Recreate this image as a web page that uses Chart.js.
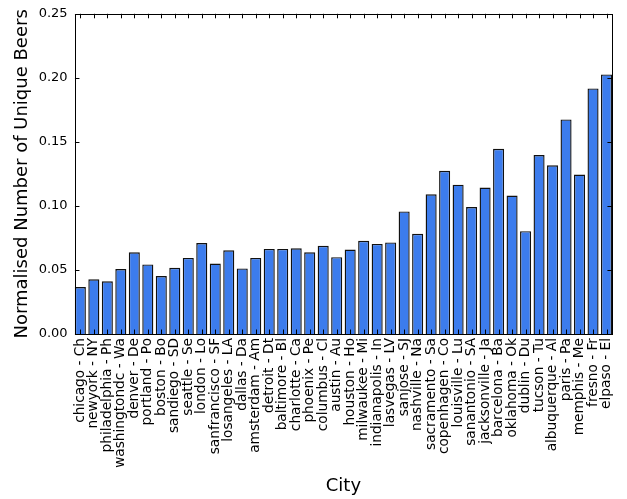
<!DOCTYPE html>
<html>
<head>
<meta charset="utf-8">
<script src="https://cdn.jsdelivr.net/npm/chart.js@4/dist/chart.umd.min.js"></script>
<style>
html,body{margin:0;padding:0;background:#fff;}
#wrap{width:627px;height:499px;}
</style>
</head>
<body>
<div id="wrap"><canvas id="c" width="627" height="499"></canvas></div>
<script>
const cities = ["chicago - Ch","newyork - NY","philadelphia - Ph","washingtondc - Wa","denver - De","portland - Po","boston - Bo","sandiego - SD","seattle - Se","london - Lo","sanfrancisco - SF","losangeles - LA","dallas - Da","amsterdam - Am","detroit - Dt","baltimore - Bl","charlotte - Ca","phoenix - Pe","columbus - Cl","austin - Au","houston - Ho","milwaukee - Mi","indianapolis - In","lasvegas - LV","sanjose - SJ","nashville - Na","sacramento - Sa","copenhagen - Co","louisville - Lu","sanantonio - SA","jacksonville - Ja","barcelona - Ba","oklahoma - Ok","dublin - Du","tucson - Tu","albuquerque - Al","paris - Pa","memphis - Me","fresno - Fr","elpaso - El"];
const uniqueBeers = [0.0367,0.0427,0.0411,0.0507,0.0638,0.0543,0.0453,0.0517,0.0594,0.0710,0.0550,0.0653,0.0512,0.0594,0.0664,0.0664,0.0669,0.0638,0.0689,0.0600,0.0659,0.0728,0.0703,0.0715,0.0957,0.0782,0.1091,0.1274,0.1166,0.0991,0.1143,0.1446,0.1081,0.0803,0.1397,0.1317,0.1675,0.1245,0.1917,0.2027];
const yTicks = [0.00,0.05,0.10,0.15,0.20,0.25];
const xTitle = "City";
const yTitle = "Normalised Number of Unique Beers";

Chart.defaults.font.family = "'DejaVu Sans', sans-serif";
Chart.defaults.color = "#000";

const framePlugin = {
  id: 'frame',
  afterDatasetsDraw(chart) {
    const ctx = chart.ctx;
    const xs = chart.scales.x, ys = chart.scales.y;
    const unit = xs.getPixelForTick(1) - xs.getPixelForTick(0);
    const left = xs.getPixelForTick(0) - 0.4 * unit;
    const right = xs.getPixelForTick(cities.length - 1) + 0.4 * unit;
    const top = ys.getPixelForValue(yTicks[yTicks.length - 1]);
    const bottom = ys.getPixelForValue(yTicks[0]);
    const tl = 4.5;
    ctx.save();
    ctx.strokeStyle = '#000';
    ctx.lineWidth = 1;
    ctx.beginPath();
    yTicks.forEach(v => {
      const y = Math.round(ys.getPixelForValue(v)) + 0.5;
      ctx.moveTo(left, y); ctx.lineTo(left + tl, y);
      ctx.moveTo(right, y); ctx.lineTo(right - tl, y);
    });
    cities.forEach((c, i) => {
      const x = Math.round(xs.getPixelForTick(i)) + 0.5;
      ctx.moveTo(x, top); ctx.lineTo(x, top + tl);
      ctx.moveTo(x, bottom); ctx.lineTo(x, bottom - tl);
    });
    ctx.stroke();
    ctx.strokeRect(Math.round(left) + 0.5, Math.round(top) + 0.5, Math.round(right - left), Math.round(bottom - top));
    ctx.restore();
  }
};

new Chart(document.getElementById('c'), {
  type: 'bar',
  data: {
    labels: cities,
    datasets: [{
      data: uniqueBeers,
      backgroundColor: '#3c7ced',
      borderColor: '#111',
      borderWidth: 1.4,
      categoryPercentage: 1.0,
      barPercentage: 0.82
    }]
  },
  options: {
    responsive: false,
    devicePixelRatio: 1,
    animation: false,
    layout: { padding: { top: 10, right: 2.6, left: 0, bottom: 0 } },
    plugins: { legend: { display: false }, tooltip: { enabled: false } },
    scales: {
      x: {
        offset: true,
        grid: { display: false, drawTicks: false },
        border: { display: false },
        ticks: { autoSkip: false, minRotation: 90, maxRotation: 90, padding: 4, font: { size: 13.7 }, color: '#000' },
        title: { display: true, text: xTitle, font: { size: 18 }, color: '#000', padding: { top: 0, bottom: 2 } },
        afterFit(scale) { scale.height = 165; }
      },
      y: {
        min: 0, max: 0.25,
        grid: { display: false, drawTicks: false },
        border: { display: false },
        afterBuildTicks(scale) { scale.ticks = yTicks.map(v => ({ value: v })); },
        ticks: { padding: 6, font: { size: 13 }, color: '#000', callback: v => Number(v).toFixed(2) },
        title: { display: true, text: yTitle, font: { size: 18 }, color: '#000', padding: { top: 12, bottom: 0 } },
        afterFit(scale) { scale.width = 73.6; }
      }
    }
  },
  plugins: [framePlugin]
});
</script>
</body>
</html>
